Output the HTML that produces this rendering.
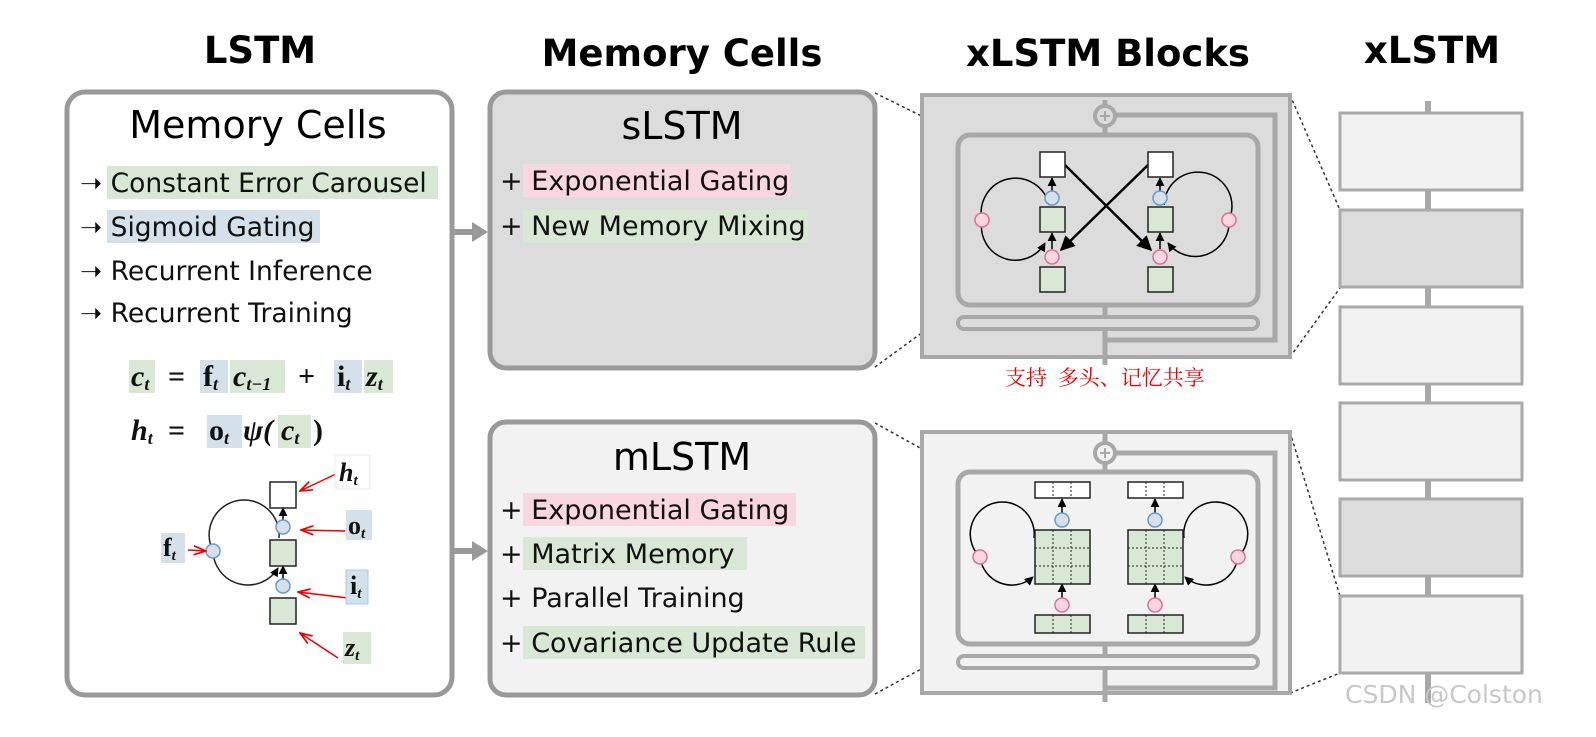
<!DOCTYPE html>
<html><head><meta charset="utf-8"><style>
html,body{margin:0;padding:0;background:#fff;}
svg{display:block;}
.t{font-family:"DejaVu Sans","Liberation Sans",sans-serif;}
.m{font-family:"Liberation Serif","DejaVu Serif",serif;font-weight:bold;}
</style></head><body>
<svg width="1596" height="737" viewBox="0 0 1596 737" xmlns="http://www.w3.org/2000/svg">
<defs>
<marker id="ah" viewBox="0 0 10 10" refX="9" refY="5" markerWidth="6" markerHeight="6" orient="auto"><path d="M0,0L10,5L0,10z" fill="#000"/></marker>
<marker id="ra" viewBox="0 0 12 10" refX="11" refY="5" markerWidth="9" markerHeight="8" orient="auto"><path d="M0,1L11,5L0,9" fill="none" stroke="#e00" stroke-width="1.5"/></marker>
</defs>
<!-- titles -->
<g class="t" font-weight="bold" font-size="37" text-anchor="middle" fill="#000">
<text x="260" y="63">LSTM</text>
<text x="682" y="66">Memory Cells</text>
<text x="1108" y="66">xLSTM Blocks</text>
<text x="1432" y="63">xLSTM</text>
</g>
<!-- LSTM box -->
<rect x="67" y="92" width="385" height="603" rx="18" fill="#fff" stroke="#999" stroke-width="5"/>
<text class="t" x="258" y="138" font-size="38" text-anchor="middle">Memory Cells</text>
<rect x="107" y="166" width="331" height="33" fill="#d9e8d4"/>
<rect x="107" y="210" width="213" height="33" fill="#d5e1ea"/>
<g class="t" font-size="26.5" fill="#111">
<text x="80" y="192">➝ Constant Error Carousel</text>
<text x="80" y="236">➝ Sigmoid Gating</text>
<text x="80" y="280">➝ Recurrent Inference</text>
<text x="80" y="322">➝ Recurrent Training</text>
</g>
<!-- equations -->
<rect x="129" y="360" width="26" height="33" fill="#d9e8d4"/>
<rect x="200" y="360" width="28" height="33" fill="#d5e1ea"/>
<rect x="230" y="360" width="55" height="33" fill="#d9e8d4"/>
<rect x="334" y="360" width="28" height="33" fill="#d5e1ea"/>
<rect x="364" y="360" width="29" height="33" fill="#d9e8d4"/>
<rect x="207" y="415" width="35" height="33" fill="#d5e1ea"/>
<rect x="278" y="415" width="33" height="33" fill="#d9e8d4"/>
<g class="m" font-size="30" fill="#111">
<text x="131" y="386" font-style="italic">c<tspan font-size="18" dy="4">t</tspan></text>
<text x="168" y="386">=</text>
<text x="203" y="386">f<tspan font-size="18" dy="4" font-style="italic">t</tspan></text>
<text x="233" y="386" font-style="italic">c<tspan font-size="18" dy="4">t−1</tspan></text>
<text x="298" y="386">+</text>
<text x="337" y="386">i<tspan font-size="18" dy="4" font-style="italic">t</tspan></text>
<text x="366" y="386" font-style="italic">z<tspan font-size="18" dy="4">t</tspan></text>
<text x="131" y="440" font-style="italic">h<tspan font-size="18" dy="4">t</tspan></text>
<text x="168" y="440">=</text>
<text x="209" y="440">o<tspan font-size="18" dy="4" font-style="italic">t</tspan></text>
<text x="243" y="440" font-style="italic">ψ(</text>
<text x="281" y="440" font-style="italic">c<tspan font-size="18" dy="4">t</tspan></text>
<text x="313" y="440">)</text>
</g>
<!-- LSTM cell diagram -->
<path d="M279,538 A35,35 0 1,0 213,551 A35,35 0 0,0 278,568" fill="none" stroke="#222" stroke-width="1.5" marker-end="url(#ah)"/>
<line x1="283" y1="522" x2="283" y2="508" stroke="#000" stroke-width="1.5" marker-end="url(#ah)"/>
<line x1="283" y1="580" x2="283" y2="566" stroke="#000" stroke-width="1.5" marker-end="url(#ah)"/>
<rect x="270" y="482" width="26" height="26" fill="#fff" stroke="#222" stroke-width="1.5"/>
<rect x="270" y="540" width="26" height="26" fill="#d9e8d4" stroke="#222" stroke-width="1.5"/>
<rect x="270" y="598" width="26" height="26" fill="#d9e8d4" stroke="#222" stroke-width="1.5"/>
<circle cx="283" cy="527" r="7" fill="#d5e1ea" stroke="#6a9ac4" stroke-width="1.5"/>
<circle cx="283" cy="586" r="7" fill="#d5e1ea" stroke="#6a9ac4" stroke-width="1.5"/>
<circle cx="213" cy="551" r="7" fill="#d5e1ea" stroke="#6a9ac4" stroke-width="1.5"/>
<g stroke="#e00" stroke-width="1.5" fill="none" marker-end="url(#ra)">
<line x1="336" y1="474" x2="300" y2="491"/>
<line x1="345" y1="531" x2="301" y2="530"/>
<line x1="348" y1="598" x2="298" y2="592"/>
<line x1="338" y1="658" x2="300" y2="633"/>
<line x1="188" y1="550" x2="206" y2="551"/>
</g>
<rect x="335" y="455" width="35" height="34" fill="#fff" stroke="#eee"/>
<rect x="346" y="510" width="26" height="30" fill="#d5e1ea"/>
<rect x="346" y="570" width="22" height="34" fill="#d5e1ea" stroke="#a8c8f0"/>
<rect x="343" y="632" width="28" height="32" fill="#d9e8d4"/>
<rect x="161" y="533" width="24" height="30" fill="#d5e1ea"/>
<g class="m" font-size="26" fill="#111">
<text x="339" y="481" font-style="italic">h<tspan font-size="15" dy="4">t</tspan></text>
<text x="348" y="534">o<tspan font-size="15" dy="4" font-style="italic">t</tspan></text>
<text x="350" y="594">i<tspan font-size="15" dy="4" font-style="italic">t</tspan></text>
<text x="345" y="656" font-style="italic">z<tspan font-size="15" dy="4">t</tspan></text>
<text x="163" y="556">f<tspan font-size="15" dy="4" font-style="italic">t</tspan></text>
</g>
<!-- arrows -->
<g fill="#999"><rect x="452" y="229" width="22" height="6"/><path d="M472,222L488,232L472,242z"/>
<rect x="452" y="548" width="22" height="6"/><path d="M472,541L488,551L472,561z"/></g>
<!-- sLSTM box -->
<rect x="490" y="92" width="385" height="276" rx="16" fill="#dcdcdc" stroke="#999" stroke-width="5"/>
<text class="t" x="682" y="139" font-size="38" text-anchor="middle">sLSTM</text>
<rect x="523" y="164" width="268" height="33" fill="#f8d7e0"/>
<rect x="523" y="210" width="285" height="33" fill="#d9e8d4"/>
<g class="t" font-size="27" fill="#111"><text x="500" y="190">+ Exponential Gating</text><text x="500" y="235">+ New Memory Mixing</text></g>
<!-- mLSTM box -->
<rect x="490" y="422" width="385" height="273" rx="16" fill="#f2f2f2" stroke="#999" stroke-width="5"/>
<text class="t" x="682" y="470" font-size="38" text-anchor="middle">mLSTM</text>
<rect x="523" y="493" width="273" height="33" fill="#f8d7e0"/>
<rect x="523" y="537" width="224" height="33" fill="#d9e8d4"/>
<rect x="523" y="626" width="342" height="33" fill="#d9e8d4"/>
<g class="t" font-size="27" fill="#111"><text x="500" y="519">+ Exponential Gating</text><text x="500" y="563">+ Matrix Memory</text><text x="500" y="607">+ Parallel Training</text><text x="500" y="652">+ Covariance Update Rule</text></g>
<!-- dotted lines -->
<g stroke="#333" stroke-width="1.5" stroke-dasharray="3,3" fill="none">
<line x1="875" y1="93" x2="960" y2="135"/><line x1="875" y1="367" x2="960" y2="305"/>
<line x1="875" y1="423" x2="960" y2="470"/><line x1="875" y1="694" x2="960" y2="648"/>
<line x1="1290" y1="95" x2="1340" y2="210"/><line x1="1290" y1="357" x2="1340" y2="288"/>
<line x1="1290" y1="432" x2="1340" y2="596"/><line x1="1290" y1="693" x2="1340" y2="673"/>
</g>
<!-- sLSTM block -->
<g stroke="#a8a8a8" fill="none">
<rect x="922" y="95" width="368" height="262" fill="#dcdcdc" stroke-width="4"/>
<line x1="1105" y1="100" x2="1105" y2="365" stroke-width="5"/>
<path d="M1115,115H1275V340H1105" stroke-width="5"/>
<rect x="958" y="135" width="300" height="170" rx="12" fill="#dcdcdc" stroke-width="5"/>
<rect x="958" y="317" width="300" height="12" rx="6" fill="#dcdcdc" stroke-width="4"/>
<circle cx="1105" cy="116" r="10" fill="#dcdcdc" stroke-width="4"/>
<path d="M1100,116h10M1105,111v10" stroke-width="2"/>
</g>
<g stroke="#000" stroke-width="1.5" fill="none">
<path d="M1049,205 A34,34 0 1,0 982,220 A34,34 0 0,0 1045,243" marker-end="url(#ah)"/>
<path d="M1164,205 A34,34 0 1,1 1229,220 A34,34 0 0,1 1168,243" marker-end="url(#ah)"/>
<line x1="1052" y1="191" x2="1052" y2="178" marker-end="url(#ah)"/>
<line x1="1160" y1="191" x2="1160" y2="178" marker-end="url(#ah)"/>
<line x1="1052" y1="249" x2="1052" y2="233" marker-end="url(#ah)"/>
<line x1="1160" y1="249" x2="1160" y2="233" marker-end="url(#ah)"/>
<line x1="1065" y1="165" x2="1151" y2="250" stroke-width="2.5" marker-end="url(#ah)"/>
<line x1="1148" y1="165" x2="1061" y2="250" stroke-width="2.5" marker-end="url(#ah)"/>
</g>
<g stroke="#222" stroke-width="1.5">
<rect x="1040" y="152" width="25" height="25" fill="#fff"/><rect x="1148" y="152" width="25" height="25" fill="#fff"/>
<rect x="1040" y="207" width="25" height="25" fill="#d9e8d4"/><rect x="1148" y="207" width="25" height="25" fill="#d9e8d4"/>
<rect x="1040" y="267" width="25" height="25" fill="#d9e8d4"/><rect x="1148" y="267" width="25" height="25" fill="#d9e8d4"/>
</g>
<g stroke-width="1.5">
<circle cx="1052" cy="198" r="7" fill="#d5e1ea" stroke="#6a9ac4"/><circle cx="1160" cy="198" r="7" fill="#d5e1ea" stroke="#6a9ac4"/>
<circle cx="1052" cy="257" r="7" fill="#f8d7e0" stroke="#e07090"/><circle cx="1160" cy="257" r="7" fill="#f8d7e0" stroke="#e07090"/>
<circle cx="982" cy="220" r="7" fill="#f8d7e0" stroke="#e07090"/><circle cx="1229" cy="220" r="7" fill="#f8d7e0" stroke="#e07090"/>
</g>
<text x="1005" y="385" font-family="'Noto Serif CJK SC','Noto Sans CJK SC',serif" font-size="21" fill="#e00">支持&#160;&#160;多头、记忆共享</text>
<!-- mLSTM block -->
<g stroke="#a8a8a8" fill="none">
<rect x="922" y="432" width="368" height="261" fill="#f2f2f2" stroke-width="4"/>
<line x1="1105" y1="432" x2="1105" y2="702" stroke-width="5"/>
<path d="M1115,453H1275V688H1105" stroke-width="5"/>
<rect x="958" y="472" width="300" height="172" rx="12" fill="#f2f2f2" stroke-width="5"/>
<rect x="958" y="656" width="300" height="12" rx="6" fill="#f2f2f2" stroke-width="4"/>
<circle cx="1105" cy="453" r="10" fill="#f2f2f2" stroke-width="4"/>
<path d="M1100,453h10M1105,448v10" stroke-width="2"/>
</g>
<g stroke="#000" stroke-width="1.5" fill="none">
<path d="M1034,538 A32,32 0 1,0 980,557 A32,32 0 0,0 1033,577" marker-end="url(#ah)"/>
<path d="M1184,538 A32,32 0 1,1 1238,557 A32,32 0 0,1 1185,577" marker-end="url(#ah)"/>
<line x1="1062" y1="513" x2="1062" y2="499" marker-end="url(#ah)"/>
<line x1="1155" y1="513" x2="1155" y2="499" marker-end="url(#ah)"/>
<line x1="1062" y1="598" x2="1062" y2="584" marker-end="url(#ah)"/>
<line x1="1155" y1="598" x2="1155" y2="584" marker-end="url(#ah)"/>
</g>
<g stroke="#222" stroke-width="1.5">
<rect x="1035" y="482" width="55" height="16" fill="#fff"/><rect x="1128" y="482" width="55" height="16" fill="#fff"/>
<rect x="1035" y="530" width="55" height="54" fill="#d9e8d4"/><rect x="1128" y="530" width="55" height="54" fill="#d9e8d4"/>
<rect x="1035" y="615" width="55" height="18" fill="#d9e8d4"/><rect x="1128" y="615" width="55" height="18" fill="#d9e8d4"/>
</g>
<g stroke="#222" stroke-width="1" stroke-dasharray="2,2">
<path d="M1053,482v16M1071,482v16M1146,482v16M1164,482v16"/>
<path d="M1053,615v18M1071,615v18M1146,615v18M1164,615v18"/>
<path d="M1053,530v54M1071,530v54M1035,548h55M1035,566h55M1146,530v54M1164,530v54M1128,548h55M1128,566h55"/>
</g>
<g stroke-width="1.5">
<circle cx="1062" cy="520" r="7" fill="#d5e1ea" stroke="#6a9ac4"/><circle cx="1155" cy="520" r="7" fill="#d5e1ea" stroke="#6a9ac4"/>
<circle cx="1062" cy="605" r="7" fill="#f8d7e0" stroke="#e07090"/><circle cx="1155" cy="605" r="7" fill="#f8d7e0" stroke="#e07090"/>
<circle cx="980" cy="557" r="7" fill="#f8d7e0" stroke="#e07090"/><circle cx="1238" cy="557" r="7" fill="#f8d7e0" stroke="#e07090"/>
</g>
<!-- xLSTM column -->
<rect x="1425" y="101" width="6" height="602" fill="#a8a8a8"/>
<g stroke="#aaa" stroke-width="3">
<rect x="1340" y="113" width="182" height="77" fill="#f2f2f2"/>
<rect x="1340" y="210" width="182" height="77" fill="#dcdcdc"/>
<rect x="1340" y="307" width="182" height="77" fill="#f2f2f2"/>
<rect x="1340" y="403" width="182" height="77" fill="#f2f2f2"/>
<rect x="1340" y="499" width="182" height="77" fill="#dcdcdc"/>
<rect x="1340" y="596" width="182" height="77" fill="#f2f2f2"/>
</g>
<text class="t" x="1345" y="703" font-size="25" fill="#c8c8c8">CSDN @Colston</text>
</svg>
</body></html>
